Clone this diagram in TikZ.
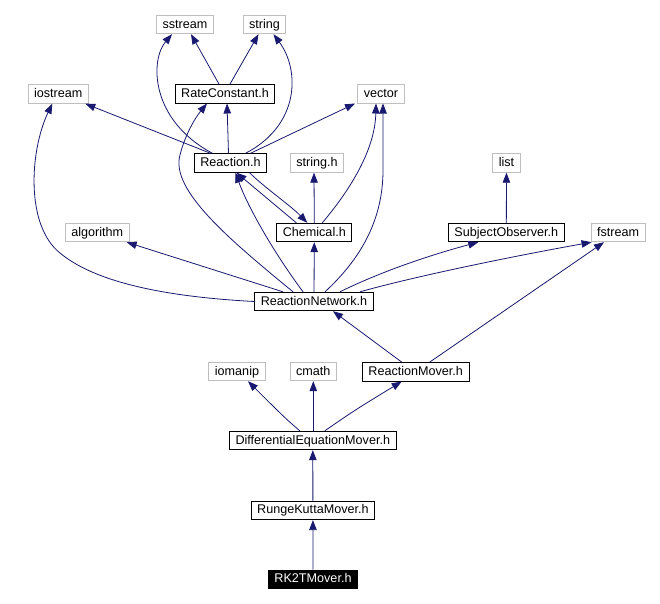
\documentclass[tikz,border=0pt]{standalone}
\usepackage{fontspec}
\setmainfont{Liberation Sans}
\usetikzlibrary{arrows.meta}
\definecolor{edgeblue}{HTML}{191970}
\definecolor{graybox}{HTML}{BFBFBF}
\begin{document}
\begin{tikzpicture}[x=1pt,y=-1pt,
  box/.style={draw, line width=0.9pt, inner xsep=6pt, inner ysep=0pt, minimum height=18.5pt,
    font=\fontsize{12.6}{14}\selectfont, text height=9.5pt, text depth=2.5pt, fill=white},
  sysbox/.style={box, draw=graybox},
  filebox/.style={box, draw=black},
  mainbox/.style={box, draw=black, fill=black, text=white},
  dep/.style={draw=edgeblue, line width=0.8pt, -{Triangle[length=10pt,width=7.5pt]}, fill=none},
]
\useasboundingbox (0,0) rectangle (660,603);
\fill[white] (0,0) rectangle (660,603);

\node[sysbox] (sstream) at (185,24.5) {sstream};
\node[sysbox] (string) at (264.5,24.5) {string};
\node[filebox] (RateConstant) at (225,93.8) {RateConstant.h};
\node[sysbox] (vector) at (381,93.8) {vector};
\node[sysbox] (iostream) at (58.3,94) {iostream};
\node[filebox] (Reaction) at (230.5,163) {Reaction.h};
\node[sysbox] (stringh) at (317,163) {string.h};
\node[sysbox] (list) at (506.5,163) {list};
\node[sysbox] (algorithm) at (97.3,232.5) {algorithm};
\node[filebox] (Chemical) at (314.3,232.5) {Chemical.h};
\node[filebox] (SubjectObserver) at (506.3,232.5) {SubjectObserver.h};
\node[sysbox] (fstream) at (618,232.5) {fstream};
\node[filebox] (RN) at (314,301.5) {ReactionNetwork.h};
\node[sysbox] (iomanip) at (237,371.5) {iomanip};
\node[sysbox] (cmath) at (313.3,371.5) {cmath};
\node[filebox] (RM) at (415.7,371.8) {ReactionMover.h};
\node[filebox] (DEM) at (312.8,440.5) {DifferentialEquationMover.h};
\node[filebox] (RKM) at (312.9,510.4) {RungeKuttaMover.h};
\node[mainbox] (RK2T) at (313,579.3) {RK2TMover.h};

% bottom chain
\draw[dep] (RK2T) -- (RKM);
\draw[dep] (RKM) -- (DEM);
\draw[dep] ([xshift=-13pt]DEM.north) .. controls (285,418) .. ([xshift=11pt]iomanip.south);
\draw[dep] (DEM.north -| cmath) -- (cmath);
\draw[dep] ([xshift=12pt]DEM.north) .. controls (355,410) .. ([xshift=-14pt]RM.south);
\draw[dep] ([xshift=-14pt]RM.north) -- ([xshift=19pt]RN.south);
\draw[dep] ([xshift=14pt]RM.north) -- ([xshift=-14pt]fstream.south);

% ReactionNetwork
\draw[dep] (RN.west) .. controls (150,296) and (90,278) .. (60,253)
  .. controls (25,225) and (30,150) .. ([xshift=-6pt]iostream.south);
\draw[dep] ([xshift=-31pt]RN.north) -- ([xshift=-3pt]algorithm.south east);
\draw[dep] ([xshift=-11pt]RN.north) .. controls (272,250) and (247,205) .. ([xshift=5pt]Reaction.south);
\draw[dep] ([xshift=-21pt]RN.north) .. controls (230,240) and (170,190) .. (180,155)
  .. controls (185,135) and (195,118) .. ([xshift=-18pt]RateConstant.south);
\draw[dep] (RN) -- (Chemical);
\draw[dep] ([xshift=11pt]RN.north) .. controls (365,255) and (383,215) .. (383,170) -- ([xshift=2pt]vector.south);
\draw[dep] ([xshift=26pt]RN.north) .. controls (380,272) and (430,255) .. ([xshift=-28pt]SubjectObserver.south);
\draw[dep] ([xshift=46pt]RN.north) .. controls (420,275) and (520,255) .. ([xshift=1pt]fstream.south west);

% Chemical
\draw[dep] (Chemical.north) -- ([xshift=-3pt]stringh.south);
\draw[dep] ([xshift=-18pt]Chemical.north) -- ([xshift=6pt]Reaction.south);
\draw[dep] ([xshift=8pt]Chemical.north) .. controls (350,190) and (375,150) .. ([xshift=-5pt]vector.south);

% Reaction
\draw[dep] ([xshift=19pt]Reaction.south) .. controls (265,188) and (290,205) .. ([xshift=-7pt]Chemical.north);
\draw[dep] ([xshift=-20pt]Reaction.north) -- ([xshift=27pt]iostream.south);
\draw[dep] ([xshift=-2pt]Reaction.north) -- ([xshift=2pt]RateConstant.south);
\draw[dep] ([xshift=-18pt]Reaction.north) .. controls (150,120) and (150,60) .. ([xshift=-13pt]sstream.south);
\draw[dep] ([xshift=15pt]Reaction.north) .. controls (300,125) and (300,70) .. ([xshift=9pt]string.south);
\draw[dep] ([xshift=20pt]Reaction.north) -- ([xshift=-26pt]vector.south);

% RateConstant
\draw[dep] ([xshift=-6pt]RateConstant.north) -- ([xshift=6pt]sstream.south);
\draw[dep] ([xshift=5pt]RateConstant.north) -- ([xshift=-6pt]string.south);

% SubjectObserver
\draw[dep] (SubjectObserver) -- (list);
\end{tikzpicture}
\end{document}
